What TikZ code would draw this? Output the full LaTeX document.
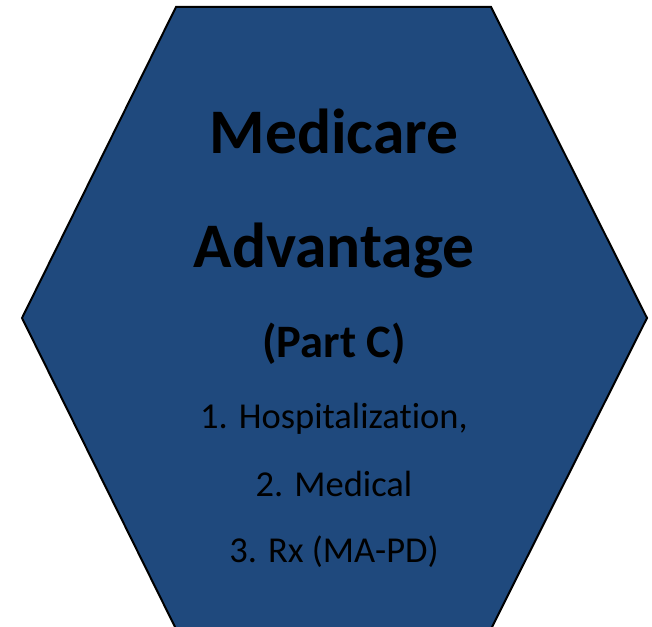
\documentclass[tikz,border=0pt]{standalone}
\usepackage{fontspec}
\setmainfont[Ligatures=NoCommon]{Carlito}
\usepackage{tikz}
\definecolor{planblue}{HTML}{1F497D}

\begin{document}
\begin{tikzpicture}[x=1pt, y=-1pt,
    title/.style={anchor=base, font=\bfseries\fontsize{63.5}{63.5}\selectfont},
    subtitle/.style={anchor=base, font=\bfseries\fontsize{46.5}{46.5}\selectfont},
    item/.style={anchor=base, font=\fontsize{36.5}{36.5}\selectfont}]
    \useasboundingbox (0,0) rectangle (652,626);

    % Hexagon
    \clip (0,0) rectangle (652,626);
    \draw[fill=planblue, line width=2pt, line join=miter]
        (176,7) -- (491,7) -- (647,318) -- (491,629) -- (176,629) -- (22,318) -- cycle;

    % Heading
    \node[title] (medicare) at (334,153) {Medicare};
    \node[title] (advantage) at (334,267) {Advantage};
    \node[subtitle] (partc) at (334,357) {(Part C)};

    % Coverage list
    \node[item] (hosp) at (334,428) {1. Hospitalization,};
    \node[item] (medical) at (334,496) {2. Medical};
    \node[item] (rx) at (334,562) {3. Rx (MA-PD)};
\end{tikzpicture}
\end{document}
